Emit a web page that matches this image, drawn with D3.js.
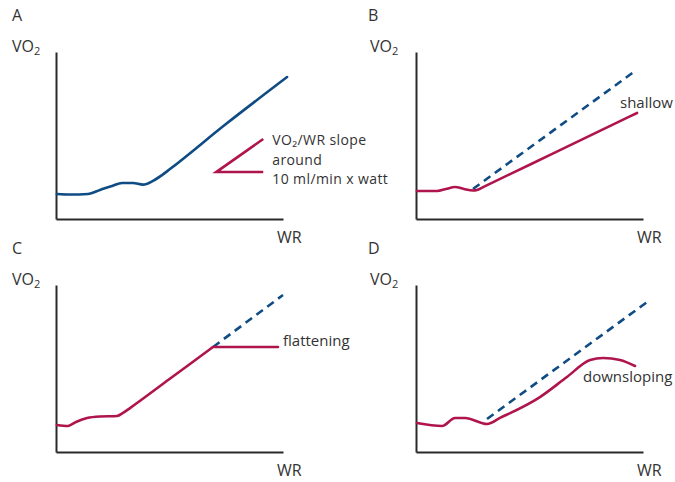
<!DOCTYPE html>
<html><head><meta charset="utf-8">
<script src="https://cdn.jsdelivr.net/npm/d3@7"></script>
<style>
html,body{margin:0;padding:0;background:#fff;}
text{font-family:"Open Sans","Noto Sans",sans-serif;fill:#333;}
</style></head>
<body><svg id="c" width="675" height="482"></svg>
<script>
// ---- data (x = work rate %, y = VO2 %) ----
const panelLetters = ["A","B","C","D"];
const axisLabelY = "VO";
const axisLabelX = "WR";
const curveA = [[0.4,15],[6.2,14.7],[14.1,15],[19.4,17.4],[24.7,19.8],[29.1,21.6],[33.9,21.6],[38.3,20.6],[42.7,22.8],[46.7,26.3],[50.2,29.9],[75,57],[101.8,85]];
const slopeMarker = [[91.3,47.9],[70.6,28.1],[91.3,28.1]];
const curveB = [[0.4,16.8],[9.3,16.8],[13.2,18.0],[17.2,19.2],[21.1,18.0],[25.1,17.1],[26.9,17.4],[30,19.4],[60,39.0],[97.4,63.5]];
const refB = [[25.1,18.0],[96.5,88.6]];
const curveC = [[0.4,16.2],[5.3,15.6],[8.8,18.0],[13.7,20.4],[19.4,21.3],[26.9,21.6],[29.5,23.4],[32.6,26.3],[50,43.7],[68.4,62.1],[69.2,62.9],[70.2,62.9],[97.8,62.9]];
const refC = [[69.2,62.9],[100,94.0]];
const curveD = [[0.4,17.4],[11.5,15.6],[17.2,20.4],[21.6,20.4],[31.3,16.8],[37.0,20.4],[54.6,32.9],[66.5,44.9],[76.7,55.1],[82.4,56.3],[89.9,55.1],[96.5,51.5]];
const refD = [[31.3,19.8],[101.8,89.8]];
const annotations = ["shallow","flattening","downsloping"];
const slopeText = ["VO\u2082/WR slope","around","10 ml/min x watt"];

const BLUE = "#0f4c84", RED = "#b0144c";
const svg = d3.select("#c");
const W = 227, H = 167;

const panels = [
  {letter:0, left:56, top:52, curve:curveA, color:BLUE, ref:null},
  {letter:1, left:416, top:52, curve:curveB, color:RED, ref:refB},
  {letter:2, left:56, top:285, curve:curveC, color:RED, ref:refC},
  {letter:3, left:416, top:285, curve:curveD, color:RED, ref:refD}
];

const x = d3.scaleLinear().domain([0,100]).range([0,W]);
const y = d3.scaleLinear().domain([0,100]).range([H,0]);
const line = d3.line().x(d=>x(d[0])).y(d=>y(d[1])).curve(d3.curveMonotoneX);
const straight = d3.line().x(d=>x(d[0])).y(d=>y(d[1]));

panels.forEach((p,i)=>{
  const g = svg.append("g").attr("transform",`translate(${p.left},${p.top})`);
  g.append("text").attr("x",-44 + (i%2?-4:0)).attr("y",-31).attr("font-size",16).text(panelLetters[p.letter]);
  const t = g.append("text").attr("x",-44 + (i%2?-2:0)).attr("y",0).attr("font-size",16);
  t.append("tspan").text(axisLabelY);
  t.append("tspan").attr("font-size",11).attr("dy",3).text("2");
  g.append("text").attr("x",W-6).attr("y",H+24).attr("font-size",16).text(axisLabelX);
  const ax = g.append("g").attr("transform",`translate(0,${H})`).call(d3.axisBottom(x).tickValues([]).tickSizeOuter(0));
  const ay = g.append("g").call(d3.axisLeft(y).tickValues([]).tickSizeOuter(0));
  [ax,ay].forEach(a=>a.select(".domain").attr("stroke","#2a2a2a").attr("stroke-width",2));
  if(p.ref){
    g.append("path").attr("d",straight(p.ref)).attr("fill","none").attr("stroke",BLUE)
      .attr("stroke-width",2.6).attr("stroke-dasharray","8,5.5");
  }
  g.append("path").attr("d",line(p.curve)).attr("fill","none").attr("stroke",p.color)
    .attr("stroke-width",2.6).attr("stroke-linejoin","round").attr("stroke-linecap","round");
  if(i===0){
    g.append("path").attr("d",straight(slopeMarker)).attr("fill","none").attr("stroke",RED).attr("stroke-width",2.6);
    slopeText.forEach((s,k)=>{
      g.append("text").attr("x",x(91.3)+9).attr("y",93+k*19.5).attr("font-size",14)
        .attr("letter-spacing",0.4).text(s);
    });
  }
  if(i===1) g.append("text").attr("x",204).attr("y",56).attr("font-size",15).text(annotations[0]);
  if(i===2) g.append("text").attr("x",227).attr("y",61).attr("font-size",15).text(annotations[1]);
  if(i===3) g.append("text").attr("x",167).attr("y",97).attr("font-size",15).text(annotations[2]);
});
</script></body></html>
